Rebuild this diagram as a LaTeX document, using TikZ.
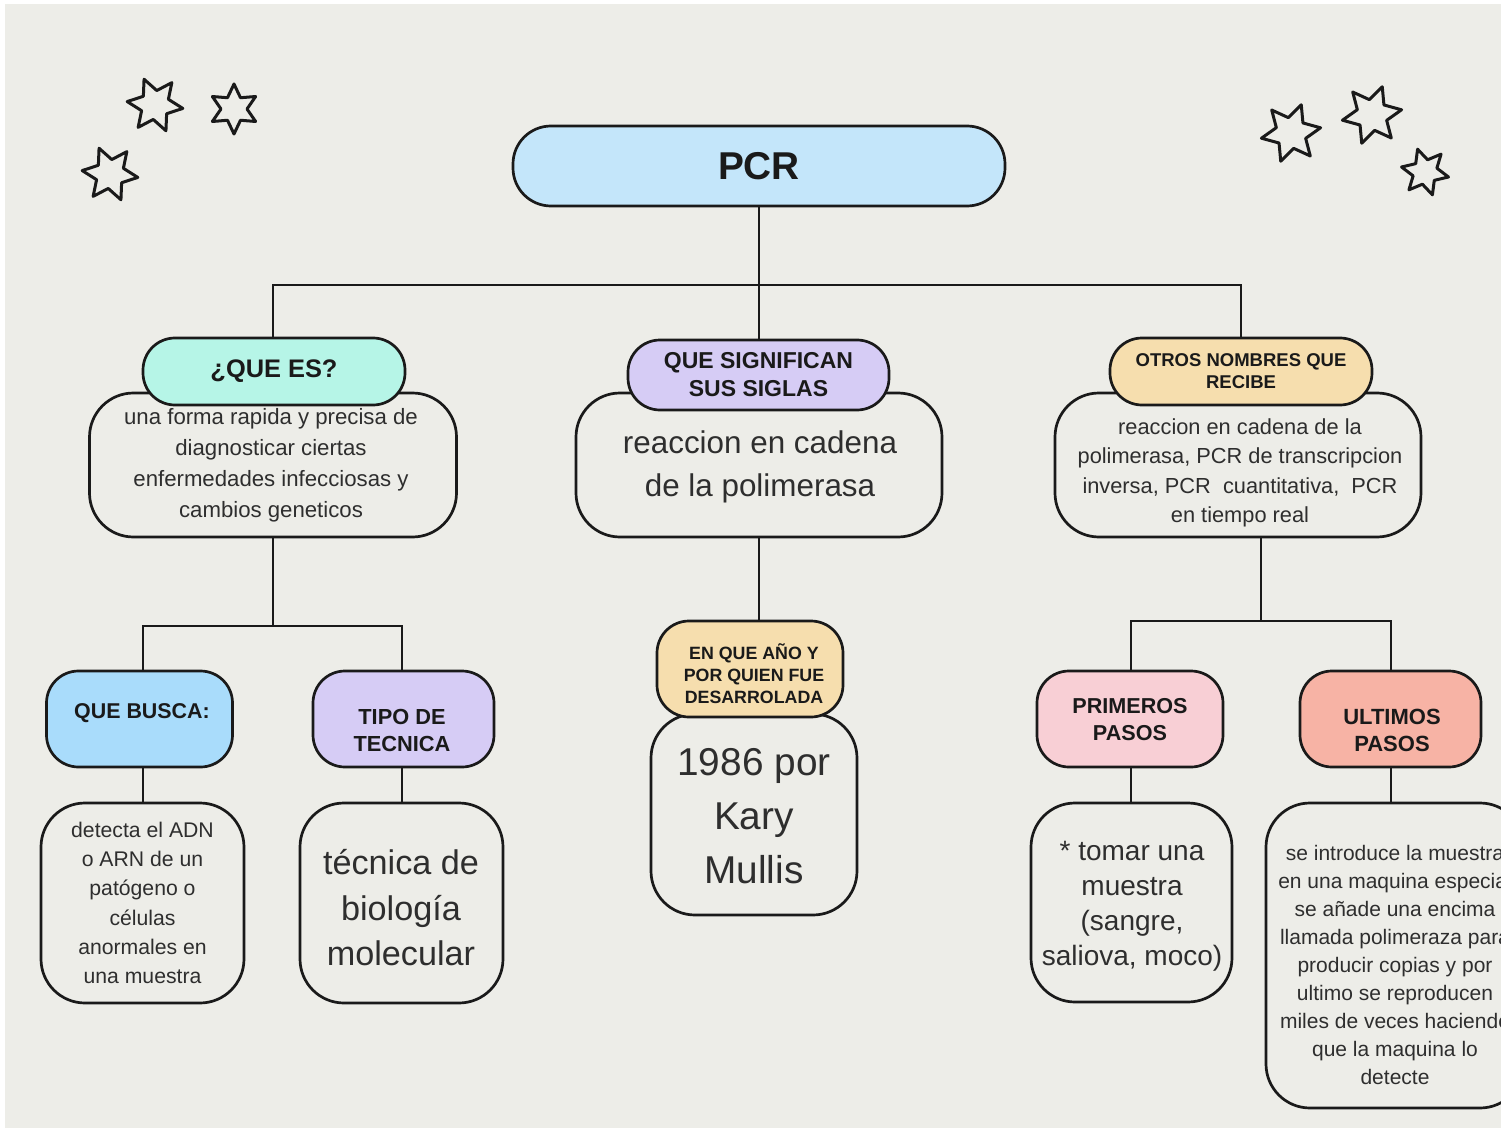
\documentclass[tikz,border=0pt]{standalone}
\usepackage{fontspec}
\setmainfont{Liberation Sans}
\definecolor{bg}{HTML}{EDEDE8}
\definecolor{ink}{HTML}{1A1A1A}
\definecolor{bodyink}{HTML}{2E2E2E}
\definecolor{pcrblue}{HTML}{C4E6FA}
\definecolor{mint}{HTML}{B6F5E7}
\definecolor{lav}{HTML}{D6CCF5}
\definecolor{tan}{HTML}{F6DEAE}
\definecolor{blue2}{HTML}{A9DCFB}
\definecolor{pink}{HTML}{F8CFD5}
\definecolor{salmon}{HTML}{F7B3A5}
\newcommand\myfs[2]{\fontsize{#1pt}{#2pt}\selectfont}
\newcommand\mystar[4]{%
  \draw[starline] ([shift={(#1,#2)}]#4:#3) -- ([shift={(#1,#2)}]{#4+30}:{0.52*#3})
  \foreach \k in {1,...,5} { -- ([shift={(#1,#2)}]{#4+60*\k}:#3) -- ([shift={(#1,#2)}]{#4+60*\k+30}:{0.52*#3}) } -- cycle;}
\tikzset{
  bodybox/.style={draw=ink, line width=1.35pt, fill=bg, rounded corners=22pt, inner sep=0pt, align=center, text=bodyink},
  headbox/.style={draw=ink, line width=1.35pt, rounded corners=16pt, inner sep=0pt, align=center, text=ink, font=\bfseries},
  conn/.style={draw=ink, line width=1.35pt},
  htxt/.style={text=ink, align=center, inner sep=0pt},
  btxt/.style={text=bodyink, align=center, inner sep=0pt},
  starline/.style={draw=ink, line width=1.5pt, line join=round},
}
\begin{document}
\begin{tikzpicture}[x=0.5pt,y=-0.5pt]
\useasboundingbox (0,0) rectangle (1501,1129);
\clip (0,0) rectangle (1501,1129);
\fill[white] (0,0) rectangle (1501,1129);
\fill[bg] (5,4) rectangle (1501,1128);

% stars
\mystar{155}{105}{28}{7}
\mystar{234}{109}{25}{30}
\mystar{110}{174}{28}{7}
\mystar{1291}{133}{30}{50}
\mystar{1372}{115}{30}{50}
\mystar{1425}{172}{24}{12}

% top level
\node[headbox, fill=pcrblue, minimum width=246pt, minimum height=40pt, rounded corners=19pt, font=\bfseries\myfs{19.4}{23}] (pcr) at (759,166) {PCR};

\node[bodybox, minimum width=183.5pt, minimum height=72pt] (queesb) at (273,465) {};
\node[btxt, font=\myfs{11.1}{15.5}] (queesbt) at (271,465)
  {una forma rapida y precisa de\\diagnosticar ciertas\\enfermedades infecciosas y\\cambios geneticos};
\node[headbox, fill=mint, minimum width=131pt, minimum height=33.5pt, font=\bfseries\myfs{12.7}{15}] (quees) at (274,371.5) {¿QUE ES?};

\node[bodybox, minimum width=183pt, minimum height=72pt] (sigb) at (759,465) {};
\node[btxt, font=\myfs{15.7}{21.5}] (sigbt) at (760,467) {reaccion en cadena\\de la polimerasa};
\node[headbox, fill=lav, minimum width=130.5pt, minimum height=35pt, font=\bfseries\myfs{11.5}{14}] (sig) at (758.5,375) {QUE SIGNIFICAN\\SUS SIGLAS};

\node[bodybox, minimum width=183pt, minimum height=72pt] (otrosb) at (1238,465) {};
\node[btxt, font=\myfs{10.9}{14.75}] (otrosbt) at (1240,473)
  {reaccion en cadena de la\\polimerasa, PCR de transcripcion\\inversa, PCR\ \ cuantitativa,\ \ PCR\\en tiempo real};
\node[headbox, fill=tan, minimum width=131pt, minimum height=33.5pt, font=\bfseries\myfs{9.25}{11}] (otros) at (1241,371.5) {OTROS NOMBRES QUE\\RECIBE};

% left branch
\node[headbox, fill=blue2, minimum width=93pt, minimum height=48pt] (busca) at (139.5,719) {};
\node[htxt, font=\bfseries\myfs{10.7}{13}] (buscat) at (142,713) {QUE BUSCA:};
\node[bodybox, minimum width=101.5pt, minimum height=100pt, font=\myfs{10.6}{14.6}] (detecta) at (142.5,903)
  {detecta el ADN\\o ARN de un\\patógeno o\\células\\anormales en\\una muestra};

\node[headbox, fill=lav, minimum width=90.5pt, minimum height=48pt] (tipo) at (403.5,719) {};
\node[htxt, font=\bfseries\myfs{10.9}{13.5}] (tipot) at (402,730) {TIPO DE\\TECNICA};
\node[bodybox, minimum width=101.5pt, minimum height=100pt] (tecnica) at (401.5,903) {};
\node[btxt, font=\myfs{17.1}{22.75}] (tecnicat) at (401,908) {técnica de\\biología\\molecular};

% middle branch
\node[bodybox, minimum width=103pt, minimum height=100.5pt] (y1986) at (754,814.5) {};
\node[btxt, font=\myfs{19.4}{27}] (y1986t) at (754,816) {1986 por\\Kary\\Mullis};
\node[headbox, fill=tan, minimum width=93pt, minimum height=48pt] (anio) at (750,669) {};
\node[htxt, font=\bfseries\myfs{8.9}{11}] (aniot) at (754,674) {EN QUE AÑO Y\\POR QUIEN FUE\\DESARROLADA};

% right branch
\node[headbox, fill=pink, minimum width=93pt, minimum height=48pt] (prim) at (1130,719) {};
\node[htxt, font=\bfseries\myfs{10.8}{13.5}] (primt) at (1130,720) {PRIMEROS\\PASOS};
\node[bodybox, minimum width=100.5pt, minimum height=99.5pt] (tomar) at (1131.5,902.5) {};
\node[btxt, font=\myfs{14}{17.5}] (tomart) at (1132,906) {* tomar una\\muestra\\(sangre,\\saliova, moco)};

\node[headbox, fill=salmon, minimum width=90.5pt, minimum height=48pt] (ult) at (1390.5,719) {};
\node[htxt, font=\bfseries\myfs{11}{13.5}] (ultt) at (1392,730) {ULTIMOS\\PASOS};
\node[bodybox, minimum width=129pt, minimum height=152.5pt] (intro) at (1395,955.5) {};
\node[btxt, font=\myfs{10.5}{14}] (introt) at (1395,965)
  {se introduce la muestra\\en una maquina especial\\se añade una encima\\llamada polimeraza para\\producir copias y por\\ultimo se reproducen\\miles de veces haciendo\\que la maquina lo\\detecte};

% connectors
\coordinate (hl) at (273,285);
\coordinate (hr) at (1241,285);
\draw[conn] (pcr.south) -- (pcr.south |- sig.north);
\draw[conn] (hl |- quees.north) -- (hl) -- (hr) -- (hr |- otros.north);

\coordinate (j2) at (143,626);
\coordinate (j3) at (402,626);
\draw[conn] (queesb.south) -- (queesb.south |- j2);
\draw[conn] (j2 |- busca.north) -- (j2) -- (j3) -- (j3 |- tipo.north);
\draw[conn] (j2 |- busca.south) -- (j2 |- detecta.north);
\draw[conn] (j3 |- tipo.south) -- (j3 |- tecnica.north);

\draw[conn] (sigb.south) -- (sigb.south |- anio.north);

\coordinate (j4) at (1261,621);
\coordinate (j5) at (1131,621);
\coordinate (j6) at (1391,621);
\draw[conn] (j4 |- otrosb.south) -- (j4);
\draw[conn] (j5 |- prim.north) -- (j5) -- (j6) -- (j6 |- ult.north);
\draw[conn] (j5 |- prim.south) -- (j5 |- tomar.north);
\draw[conn] (j6 |- ult.south) -- (j6 |- intro.north);
\end{tikzpicture}
\end{document}
